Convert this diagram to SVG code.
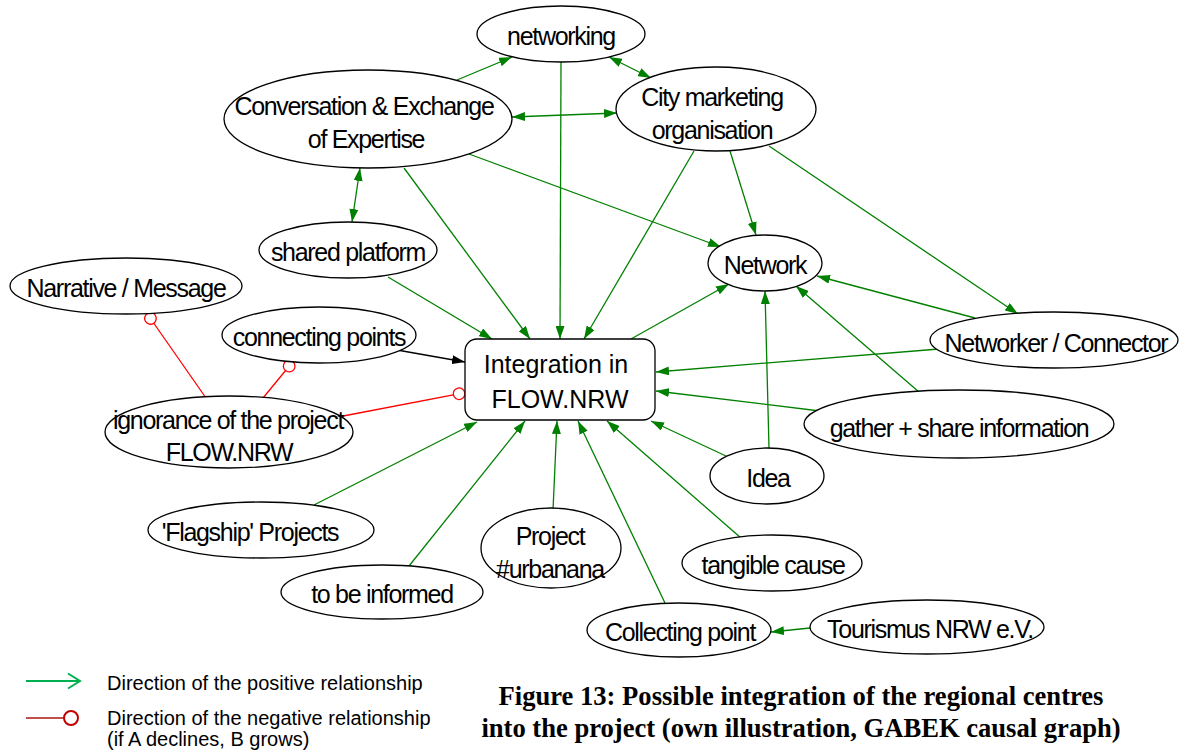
<svg xmlns="http://www.w3.org/2000/svg" width="1179" height="751" viewBox="0 0 1179 751">
<style>
.n ellipse, .n rect { fill: #fff; stroke: #000; stroke-width: 1.3; }
.n text { font-family: "Liberation Sans", Arial, sans-serif; font-size: 25px; letter-spacing: -1.3px; text-anchor: middle; fill: #000; }
.n text.b { letter-spacing: 0; }
.g { stroke: #008000; stroke-width: 1.3; fill: none; marker-end: url(#ag); }
.gd { marker-start: url(#ag); }
.r { stroke: #ff0000; stroke-width: 1.3; fill: none; marker-end: url(#ro); }
.k { stroke: #000; stroke-width: 1.3; fill: none; marker-end: url(#ak); }
.lg { font-family: "Liberation Sans", Arial, sans-serif; font-size: 20px; fill: #000; }
.cap { font-family: "Liberation Serif", "Times New Roman", serif; font-size: 26.6px; font-weight: bold; text-anchor: middle; fill: #000; }
</style>
<defs>
<marker id="ag" viewBox="0 0 13 9" refX="13" refY="4.5" markerWidth="13" markerHeight="9" markerUnits="userSpaceOnUse" orient="auto-start-reverse"><path d="M0,0 L13,4.5 L0,9 z" fill="#008000"/></marker>
<marker id="ak" viewBox="0 0 13 9" refX="13" refY="4.5" markerWidth="13" markerHeight="9" markerUnits="userSpaceOnUse" orient="auto"><path d="M0,0 L13,4.5 L0,9 z" fill="#000"/></marker>
<marker id="ro" viewBox="0 0 14 14" refX="13" refY="7" markerWidth="14" markerHeight="14" markerUnits="userSpaceOnUse" orient="auto"><circle cx="7" cy="7" r="5.8" fill="#fff" stroke="#ff0000" stroke-width="1.3"/></marker>
</defs>
<g id="connectors">
<line class="g" x1="457" y1="80" x2="512" y2="57"/>
<line class="g gd" x1="609" y1="57" x2="651" y2="78"/>
<line class="g gd" x1="512" y1="117" x2="617" y2="113"/>
<line class="g" x1="561" y1="62" x2="560" y2="339"/>
<line class="g" x1="404" y1="168" x2="530" y2="339"/>
<line class="g" x1="469" y1="154" x2="721" y2="247"/>
<line class="g" x1="694" y1="151" x2="584" y2="339"/>
<line class="g" x1="730" y1="151" x2="756" y2="235"/>
<line class="g" x1="769" y1="146" x2="1018" y2="314"/>
<line class="g gd" x1="352" y1="222" x2="360" y2="168"/>
<line class="g" x1="388" y1="277" x2="492" y2="339"/>
<line class="g" x1="631" y1="339" x2="729" y2="284"/>
<line class="g" x1="975" y1="318" x2="817" y2="276"/>
<line class="g" x1="939" y1="349" x2="656" y2="372"/>
<line class="g" x1="919" y1="392" x2="796" y2="286"/>
<line class="g" x1="820" y1="411" x2="656" y2="391"/>
<line class="g" x1="769" y1="448" x2="765" y2="291"/>
<line class="g" x1="726" y1="456" x2="651" y2="421"/>
<line class="g" x1="741" y1="538" x2="607" y2="421"/>
<line class="g" x1="665" y1="603" x2="578" y2="421"/>
<line class="g" x1="553" y1="510" x2="557" y2="421"/>
<line class="g" x1="409" y1="566" x2="525" y2="421"/>
<line class="g" x1="314" y1="505" x2="477" y2="422"/>
<line class="g" x1="810" y1="628" x2="771" y2="632"/>
<line class="k" x1="397" y1="350" x2="465" y2="362"/>
<line class="r" x1="206" y1="398" x2="147" y2="313.5"/>
<line class="r" x1="263" y1="398" x2="293" y2="361.5"/>
<line class="r" x1="338" y1="417" x2="465" y2="392.6"/>
</g>
<g id="networking" class="n"><ellipse cx="561" cy="34" rx="84" ry="28"/><text x="561" y="45">networking</text></g>
<g id="conversation" class="n"><ellipse cx="368" cy="119" rx="144" ry="49"/><text x="364" y="115">Conversation &amp; Exchange</text><text x="366" y="148">of Expertise</text></g>
<g id="city-marketing" class="n"><ellipse cx="716" cy="109" rx="100" ry="42"/><text x="712" y="106">City marketing</text><text x="712" y="139">organisation</text></g>
<g id="shared-platform" class="n"><ellipse cx="348" cy="250" rx="89" ry="28"/><text x="348" y="261">shared platform</text></g>
<g id="network" class="n"><ellipse cx="765" cy="263" rx="57" ry="28"/><text x="765" y="274">Network</text></g>
<g id="narrative" class="n"><ellipse cx="126" cy="286" rx="116" ry="28"/><text x="126" y="297">Narrative / Message</text></g>
<g id="connecting-points" class="n"><ellipse cx="319" cy="335" rx="97" ry="28"/><text x="319" y="346">connecting points</text></g>
<g id="integration" class="n"><rect x="465" y="339" width="190" height="81" rx="12" ry="12"/><text class="b" x="556" y="373">Integration in</text><text class="b" x="560" y="408">FLOW.NRW</text></g>
<g id="networker" class="n"><ellipse cx="1054" cy="340" rx="124" ry="28"/><text x="1056" y="352">Networker / Connector</text></g>
<g id="ignorance" class="n"><ellipse cx="229" cy="432" rx="124" ry="36"/><text x="228" y="429">ignorance of the project</text><text x="229" y="461">FLOW.NRW</text></g>
<g id="gather" class="n"><ellipse cx="959" cy="424" rx="155" ry="34"/><text x="959" y="437">gather + share information</text></g>
<g id="idea" class="n"><ellipse cx="767" cy="476" rx="57" ry="28"/><text x="768" y="487">Idea</text></g>
<g id="flagship" class="n"><ellipse cx="261" cy="530" rx="113" ry="28"/><text x="250" y="541">'Flagship' Projects</text></g>
<g id="urbanana" class="n"><ellipse cx="551" cy="548" rx="70" ry="40"/><text x="550" y="545">Project</text><text x="550" y="578">#urbanana</text></g>
<g id="tangible" class="n"><ellipse cx="772" cy="563" rx="90" ry="28"/><text x="773" y="574">tangible cause</text></g>
<g id="informed" class="n"><ellipse cx="382" cy="592" rx="101" ry="27"/><text x="382" y="603">to be informed</text></g>
<g id="collecting" class="n"><ellipse cx="679" cy="630" rx="92" ry="27"/><text x="680" y="641">Collecting point</text></g>
<g id="tourismus" class="n"><ellipse cx="927" cy="627" rx="117" ry="27"/><text x="930" y="638">Tourismus NRW e.V.</text></g>
<g id="legend">
<line x1="26" y1="681" x2="80" y2="681" stroke="#00b050" stroke-width="2"/>
<polyline points="68,673.5 80,681 68,688.5" fill="none" stroke="#00b050" stroke-width="2"/>
<text class="lg" x="107" y="690">Direction of the positive relationship</text>
<line x1="26" y1="718" x2="64" y2="718" stroke="#c0504d" stroke-width="2"/>
<circle cx="71" cy="718" r="7" fill="#fff" stroke="#c00000" stroke-width="2"/>
<text class="lg" x="107" y="725">Direction of the negative relationship</text>
<text class="lg" x="107" y="746">(if A declines, B grows)</text>
</g>
<g id="caption">
<text class="cap" x="801" y="705">Figure 13: Possible integration of the regional centres</text>
<text class="cap" x="801" y="737">into the project (own illustration, GABEK causal graph)</text>
</g>
</svg>
